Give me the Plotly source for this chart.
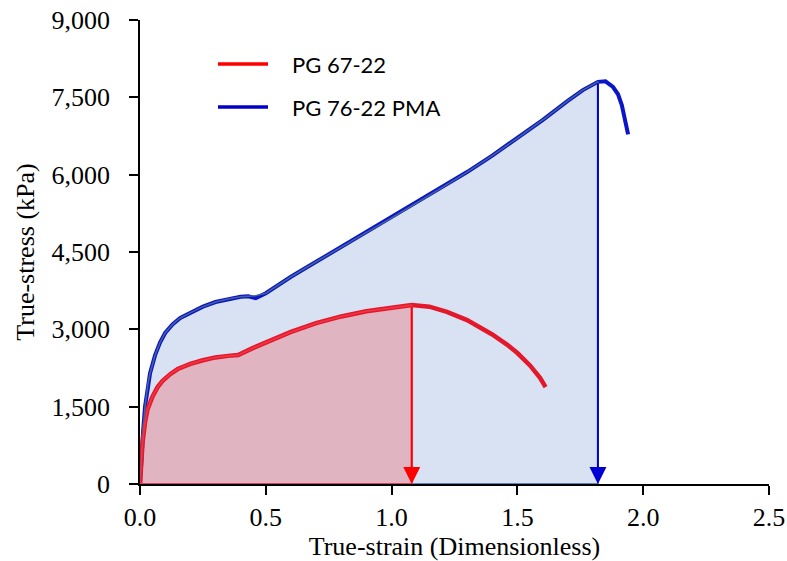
import plotly.graph_objects as go

# ---- data ----
red_strain = [0, 0.005, 0.01, 0.02, 0.03, 0.05, 0.07, 0.09, 0.12, 0.15, 0.2, 0.25, 0.3, 0.35, 0.39,
              0.45, 0.52, 0.6, 0.7, 0.8, 0.9, 1.0, 1.08, 1.15, 1.22, 1.3, 1.35, 1.4, 1.46, 1.5,
              1.55, 1.59, 1.612]
red_stress = [0, 400, 800, 1200, 1450, 1700, 1880, 2000, 2130, 2230, 2330, 2400, 2455, 2485, 2500,
              2640, 2790, 2950, 3120, 3250, 3350, 3420, 3470, 3440, 3340, 3180, 3050, 2900, 2700, 2540,
              2300, 2060, 1880]

blue_strain = [0, 0.005, 0.012, 0.02, 0.03, 0.04, 0.06, 0.08, 0.1, 0.13, 0.16, 0.2, 0.25, 0.3, 0.35,
               0.4, 0.43, 0.46, 0.5, 0.6, 0.7, 0.8, 0.9, 1.0, 1.1, 1.2, 1.3, 1.4, 1.5, 1.6, 1.7,
               1.76, 1.82, 1.85, 1.88, 1.9, 1.915, 1.93, 1.94]
blue_stress = [0, 500, 1000, 1500, 1900, 2150, 2500, 2750, 2930, 3100, 3220, 3320, 3440, 3530, 3590,
               3633, 3640, 3605, 3700, 4020, 4310, 4600, 4880, 5160, 5450, 5750, 6050, 6370, 6710, 7060, 7430,
               7640, 7800, 7810, 7700, 7560, 7350, 7050, 6780]

# failure points (arrows)
red_peak = (1.08, 3470)
blue_peak = (1.82, 7800)

# envelope (fill outline) of each series up to its peak
red_env_x = [x for x in red_strain if x <= red_peak[0]]
red_env_y = red_stress[:len(red_env_x)]
blue_env_x = [x for x in blue_strain if x <= blue_peak[0]]
blue_env_y = [3650 if x == 0.46 else y for x, y in zip(blue_env_x, blue_stress[:len(blue_env_x)])]

series_names = ["PG 67-22", "PG 76-22 PMA"]
x_ticks = [0.0, 0.5, 1.0, 1.5, 2.0, 2.5]
y_ticks = [0, 1500, 3000, 4500, 6000, 7500, 9000]

RED = "#E3192B"
BLUE = "#0A14C8"
BLUE_FILL = "#D9E2F3"
RED_FILL = "#E0B4C1"

fig = go.Figure()

# fills
fig.add_trace(go.Scatter(x=blue_env_x + [blue_peak[0], 0], y=blue_env_y + [0, 0],
                         fill="toself", fillcolor=BLUE_FILL, mode="lines",
                         line=dict(width=0), showlegend=False, hoverinfo="skip"))
fig.add_trace(go.Scatter(x=red_env_x + [red_peak[0], 0], y=red_env_y + [0, 0],
                         fill="toself", fillcolor=RED_FILL, mode="lines",
                         line=dict(width=0), showlegend=False, hoverinfo="skip"))

# measured curves (thick)
fig.add_trace(go.Scatter(x=blue_strain, y=blue_stress, mode="lines",
                         line=dict(color=BLUE, width=4), showlegend=False))
fig.add_trace(go.Scatter(x=red_strain, y=red_stress, mode="lines",
                         line=dict(color=RED, width=4.5), showlegend=False))

# envelope outlines (thin)
fig.add_trace(go.Scatter(x=blue_env_x + [blue_peak[0], 0], y=blue_env_y + [0, 0], mode="lines",
                         line=dict(color="#42629C", width=1.6), showlegend=False, hoverinfo="skip"))
fig.add_trace(go.Scatter(x=red_env_x + [red_peak[0], 0], y=red_env_y + [0, 0], mode="lines",
                         line=dict(color="#F23545", width=1.6), showlegend=False, hoverinfo="skip"))

# arrows
for (px, py), col in [(red_peak, "#FF0000"), (blue_peak, "#0000D2")]:
    fig.add_annotation(x=px, y=0, ax=px, ay=py, xref="x", yref="y", axref="x", ayref="y",
                       text="", showarrow=True, arrowhead=2, arrowsize=1.7, arrowwidth=2,
                       arrowcolor=col, standoff=0)

# manual legend
leg_cols = ["#FF0000", "#0000C8"]
leg_y = [0.905, 0.8125]
for name, col, yy in zip(series_names, leg_cols, leg_y):
    fig.add_shape(type="line", xref="paper", yref="paper", x0=0.124, x1=0.2035, y0=yy, y1=yy,
                  line=dict(color=col, width=3.5))
    fig.add_annotation(xref="paper", yref="paper", x=0.2385, y=yy, text=name, showarrow=False,
                       xanchor="left", yanchor="middle",
                       font=dict(family="Lato", size=22, color="black"))

axis_font = dict(family="Liberation Serif", size=26, color="black")
fig.update_xaxes(range=[0, 2.5], tickvals=x_ticks, ticktext=[f"{v:.1f}" for v in x_ticks],
                 showgrid=False, zeroline=False, showline=True, linecolor="black", linewidth=1.5,
                 ticks="outside", ticklen=9, tickwidth=1.5, tickcolor="black", tickfont=axis_font,
                 title=dict(text="True-strain (Dimensionless)", font=axis_font, standoff=2),
                 layer="below traces", automargin=False)
fig.update_yaxes(range=[0, 9000], tickvals=y_ticks, ticktext=[f"{v:,}" for v in y_ticks],
                 showgrid=False, zeroline=False, showline=True, linecolor="black", linewidth=1.5,
                 ticks="outside", ticklen=9, tickwidth=1.5, tickcolor="black", tickfont=axis_font,
                 ticklabelstandoff=14,
                 title=dict(text="True-stress (kPa)", font=axis_font, standoff=9),
                 layer="below traces", automargin=False)

fig.update_layout(width=787, height=561, margin=dict(l=140, r=18, t=20, b=77),
                  plot_bgcolor="white", paper_bgcolor="white", showlegend=False)

fig.write_html("out.html")
